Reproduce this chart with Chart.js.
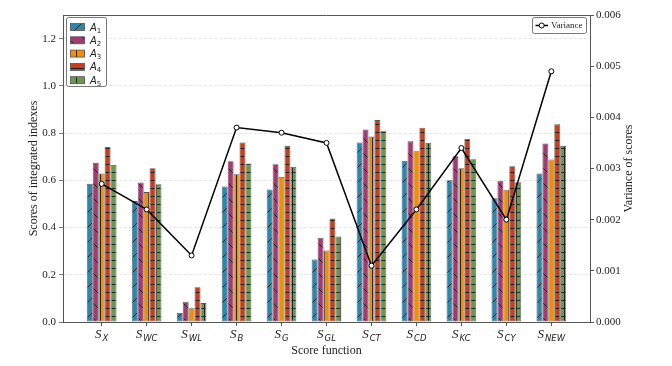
<!DOCTYPE html>
<html>
<head>
<meta charset="utf-8">
<script src="https://cdn.jsdelivr.net/npm/chart.js@4"></script>
<style>
  html, body { margin: 0; padding: 0; background: #fff; }
</style>
</head>
<body>
<canvas id="chart" width="672" height="366"></canvas>
<script>
// Values
const categories = ['X', 'WC', 'WL', 'B', 'G', 'GL', 'CT', 'CD', 'KC', 'CY', 'NEW'];
const seriesNames = ['1', '2', '3', '4', '5'];
const scoresA1 = [0.585, 0.512, 0.038, 0.574, 0.561, 0.265, 0.760, 0.682, 0.600, 0.524, 0.629];
const scoresA2 = [0.674, 0.591, 0.086, 0.681, 0.668, 0.357, 0.815, 0.765, 0.702, 0.598, 0.756];
const scoresA3 = [0.629, 0.550, 0.058, 0.626, 0.614, 0.303, 0.785, 0.723, 0.651, 0.560, 0.688];
const scoresA4 = [0.741, 0.651, 0.147, 0.760, 0.746, 0.438, 0.855, 0.823, 0.775, 0.660, 0.837];
const scoresA5 = [0.665, 0.583, 0.080, 0.671, 0.657, 0.362, 0.810, 0.758, 0.689, 0.592, 0.746];
const variance = [0.0027, 0.0022, 0.0013, 0.0038, 0.0037, 0.0035, 0.0011, 0.0022, 0.0034, 0.0020, 0.0049];
const leftTicks = [0, 0.2, 0.4, 0.6, 0.8, 1.0, 1.2];
const rightTicks = [0, 0.001, 0.002, 0.003, 0.004, 0.005, 0.006];

const colors = ['#2E86AB', '#A23B72', '#F18F01', '#C73E1D', '#6A994E'];
const hatches = ['/', '\\', '|', '-', '+'];
const AXIS = '#555';

// Build a hatched fill like matplotlib's hatch patterns
function makeHatch(color, kind) {
  const s = (kind === '/' || kind === '\\') ? 15 : 8;
  const c = document.createElement('canvas');
  c.width = s; c.height = s;
  const g = c.getContext('2d');
  g.fillStyle = color;
  g.fillRect(0, 0, s, s);
  g.strokeStyle = '#1a1a1a';
  g.lineWidth = 0.9;
  g.beginPath();
  if (kind === '/') {
    for (const k of [-s, 0, s]) { g.moveTo(k, s); g.lineTo(k + s, 0); }
  } else if (kind === '\\') {
    for (const k of [-s, 0, s]) { g.moveTo(k, 0); g.lineTo(k + s, s); }
  }
  if (kind === '|' || kind === '+') { g.moveTo(4.5, 0); g.lineTo(4.5, s); }
  if (kind === '-' || kind === '+') { g.moveTo(0, 4.5); g.lineTo(s, 4.5); }
  g.stroke();
  return g.createPattern(c, 'repeat');
}

const toPoints = arr => arr.map((v, i) => ({ x: i, y: v }));
const barSeries = [scoresA1, scoresA2, scoresA3, scoresA4, scoresA5];

const datasets = barSeries.map((vals, i) => ({
  type: 'bar',
  label: 'A' + seriesNames[i],
  data: toPoints(vals),
  backgroundColor: makeHatch(colors[i], hatches[i]),
  borderColor: AXIS,
  borderWidth: 0.8,
  borderSkipped: false,
  categoryPercentage: 0.66,
  barPercentage: 1.0,
  yAxisID: 'y',
  order: 1
}));

datasets.push({
  type: 'line',
  label: 'Variance',
  data: toPoints(variance),
  borderColor: '#000',
  borderWidth: 1.5,
  pointRadius: 2.5,
  pointBackgroundColor: '#fff',
  pointBorderColor: '#000',
  pointBorderWidth: 1,
  tension: 0,
  yAxisID: 'y2',
  order: 0
});

// Titles, subscript tick labels, top spine and the two legends
const decorations = {
  id: 'decorations',
  afterDraw(chart) {
    const ctx = chart.ctx;
    const area = chart.chartArea;
    const xs = chart.scales.x;
    ctx.save();

    // top spine
    ctx.strokeStyle = AXIS;
    ctx.lineWidth = 1;
    ctx.beginPath();
    ctx.moveTo(area.left, area.top + 0.5);
    ctx.lineTo(area.right, area.top + 0.5);
    ctx.stroke();

    // x tick labels S_sub
    ctx.fillStyle = '#222';
    ctx.textBaseline = 'alphabetic';
    categories.forEach((sub, i) => {
      const x = xs.getPixelForValue(i);
      ctx.font = 'italic 13px "Liberation Serif"';
      const wS = ctx.measureText('S').width;
      ctx.font = 'italic 8.5px "DejaVu Sans"';
      const wSub = ctx.measureText(sub).width;
      const x0 = x - (wS + wSub + 1) / 2;
      ctx.font = 'italic 13px "Liberation Serif"';
      ctx.textAlign = 'left';
      ctx.fillText('S', x0, 338);
      ctx.font = 'italic 8.5px "DejaVu Sans"';
      ctx.fillText(sub, x0 + wS + 1, 341);
    });

    // axis titles
    ctx.font = '12px "Liberation Serif"';
    ctx.textAlign = 'center';
    ctx.textBaseline = 'middle';
    ctx.fillText('Score function', (area.left + area.right) / 2, 351);
    const midY = (area.top + area.bottom) / 2;
    ctx.save();
    ctx.translate(34, midY);
    ctx.rotate(-Math.PI / 2);
    ctx.fillText('Scores of integrated indexes', 0, 0);
    ctx.restore();
    ctx.save();
    ctx.translate(629, midY);
    ctx.rotate(-Math.PI / 2);
    ctx.fillText('Variance of scores', 0, 0);
    ctx.restore();

    // legend for bars
    ctx.fillStyle = 'rgba(255,255,255,0.85)';
    ctx.strokeStyle = AXIS;
    ctx.lineWidth = 0.8;
    ctx.beginPath();
    ctx.roundRect(66.5, 17.5, 40, 69, 2);
    ctx.fill();
    ctx.stroke();
    for (let i = 0; i < 5; i++) {
      const cy = 27 + i * 13.3;
      ctx.fillStyle = chart.data.datasets[i].backgroundColor;
      ctx.fillRect(70.5, cy - 3.5, 14, 7);
      ctx.strokeStyle = AXIS;
      ctx.strokeRect(70.5, cy - 3.5, 14, 7);
      ctx.fillStyle = '#222';
      ctx.textAlign = 'left';
      ctx.textBaseline = 'alphabetic';
      ctx.font = 'italic 10px "DejaVu Sans"';
      ctx.fillText('A', 90, cy + 3.5);
      const wA = ctx.measureText('A').width;
      ctx.font = '7px "DejaVu Sans"';
      ctx.fillText(seriesNames[i], 90 + wA, cy + 5.5);
    }

    // legend for the variance line
    ctx.fillStyle = 'rgba(255,255,255,0.85)';
    ctx.strokeStyle = AXIS;
    ctx.beginPath();
    ctx.roundRect(532.5, 17.5, 54, 16, 2);
    ctx.fill();
    ctx.stroke();
    ctx.strokeStyle = '#000';
    ctx.lineWidth = 1.5;
    ctx.beginPath();
    ctx.moveTo(535.5, 25.5);
    ctx.lineTo(548, 25.5);
    ctx.stroke();
    ctx.fillStyle = '#fff';
    ctx.lineWidth = 1;
    ctx.beginPath();
    ctx.arc(541.7, 25.5, 2.5, 0, Math.PI * 2);
    ctx.fill();
    ctx.stroke();
    ctx.fillStyle = '#222';
    ctx.font = '9px "Liberation Serif"';
    ctx.textBaseline = 'middle';
    ctx.fillText('Variance', 551, 26);

    ctx.restore();
  }
};

new Chart(document.getElementById('chart'), {
  data: { datasets },
  options: {
    responsive: false,
    animation: false,
    layout: { padding: { top: 15, left: 0, right: 0, bottom: 0 } },
    plugins: { legend: { display: false }, tooltip: { enabled: false } },
    scales: {
      x: {
        type: 'linear',
        min: -0.86,
        max: 10.86,
        offset: false,
        afterBuildTicks: s => { s.ticks = categories.map((c, i) => ({ value: i })); },
        ticks: { callback: () => '', autoSkip: false, maxRotation: 0 },
        grid: { offset: false, drawOnChartArea: false, drawTicks: true, tickLength: 4, tickColor: AXIS },
        border: { color: AXIS, width: 1 },
        afterFit: s => { s.height = 44; }
      },
      y: {
        position: 'left',
        min: 0,
        max: 1.3,
        afterBuildTicks: s => { s.ticks = leftTicks.map(v => ({ value: v })); },
        ticks: {
          callback: v => v.toFixed(1),
          font: { family: 'Liberation Serif', size: 11 },
          color: '#222',
          padding: 3
        },
        grid: { color: 'rgba(0,0,0,0.13)', lineWidth: 0.8, tickColor: AXIS, tickLength: 4 },
        border: { color: AXIS, width: 1, dash: [3, 2] },
        afterFit: s => { s.width = 63; }
      },
      y2: {
        position: 'right',
        min: 0,
        max: 0.006,
        afterBuildTicks: s => { s.ticks = rightTicks.map(v => ({ value: v })); },
        ticks: {
          callback: v => v.toFixed(3),
          font: { family: 'Liberation Serif', size: 11 },
          color: '#222',
          padding: 2
        },
        grid: { drawOnChartArea: false, tickColor: AXIS, tickLength: 4 },
        border: { color: AXIS, width: 1 },
        afterFit: s => { s.width = 82; }
      }
    }
  },
  plugins: [decorations]
});
</script>
</body>
</html>
